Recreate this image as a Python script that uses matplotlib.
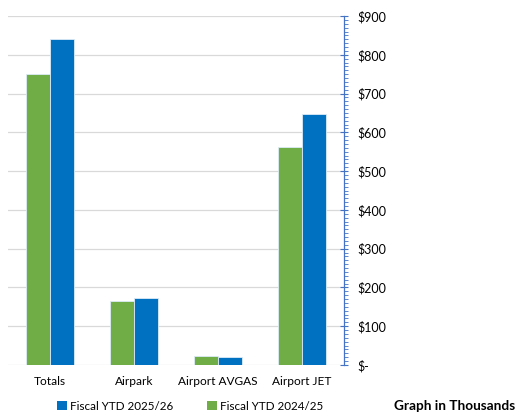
import matplotlib
matplotlib.use("Agg")
import matplotlib.pyplot as plt
from matplotlib.patches import Patch
from matplotlib.ticker import MultipleLocator, FuncFormatter
import numpy as np

categories = ["Totals", "Airpark", "Airport AVGAS", "Airport JET"]
fy_2025_26 = [840, 172, 20, 647]
fy_2024_25 = [750, 165, 23, 562]
series_names = ["Fiscal YTD 2025/26", "Fiscal YTD 2024/25"]
note = "Graph in Thousands"

plt.rcParams['font.family'] = ['Lato', 'DejaVu Sans']

blue = "#0070C0"
green = "#70AD47"
axis_col = "#4472C4"

fig = plt.figure(figsize=(5.18, 4.16), dpi=100)
ax = fig.add_axes([8/518, 1-365/416, (344-8)/518, (365-16)/416])

x = np.arange(len(categories))
w = 0.285
ax.bar(x - w/2, fy_2024_25, width=w, color=green, edgecolor="#DDEBF7", linewidth=0.6, zorder=3)
ax.bar(x + w/2, fy_2025_26, width=w, color=blue, edgecolor="#DDEBF7", linewidth=0.6, zorder=3)

ax.set_xlim(-0.5, 3.5)
ax.set_ylim(0, 900)
ax.yaxis.set_major_locator(MultipleLocator(100))
ax.yaxis.set_minor_locator(MultipleLocator(10))
ax.yaxis.tick_right()
ax.yaxis.set_major_formatter(FuncFormatter(lambda v, p: "$-" if v == 0 else f"${int(v)}"))
ax.tick_params(axis='y', which='major', direction='inout', length=6, width=0.8, color=axis_col,
               labelsize=9, pad=7, labelcolor="#000000")
ax.tick_params(axis='y', which='minor', direction='out', length=3, width=0.6, color=axis_col)
ax.tick_params(axis='x', length=0, labelsize=8.6, pad=8)
ax.set_xticks(x)
ax.set_xticklabels(categories)

for s in ["top", "left", "bottom"]:
    ax.spines[s].set_visible(False)
ax.spines["right"].set_color(axis_col)
ax.spines["right"].set_linewidth(0.9)

ax.grid(axis='y', color="#D9D9D9", linewidth=0.9, zorder=0)
ax.set_axisbelow(True)

handles = [Patch(facecolor=blue, edgecolor="none"), Patch(facecolor=green, edgecolor="none")]
fig.legend(handles, series_names, loc='center', bbox_to_anchor=(190.5/518, 1-406/416), ncol=2,
           frameon=False, fontsize=8.4, handlelength=0.85, handleheight=0.85, handletextpad=0.25,
           columnspacing=2.9, borderaxespad=0)
fig.text(515/518, 1-406/416, note, ha='right', va='center', fontsize=9.8, fontweight='bold')

fig.savefig("out.png", dpi=100)
